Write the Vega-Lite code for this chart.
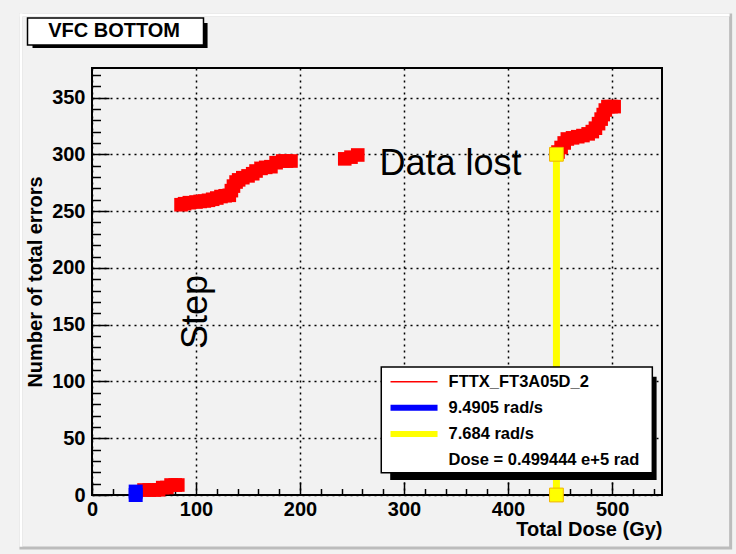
{
  "$schema": "https://vega.github.io/schema/vega-lite/v6.json",
  "width": 570,
  "height": 427,
  "autosize": {"type": "none"},
  "padding": {"left": 92, "top": 68, "right": 74, "bottom": 59},
  "background": "#f2f2f2",
  "config": {
    "view": {"stroke": "#000000", "strokeWidth": 2},
    "font": "Liberation Sans",
    "axis": {"labelColor": "#000000", "titleColor": "#000000", "tickColor": "#000000", "labelFont": "Liberation Sans", "titleFont": "Liberation Sans"}
  },
  "data": {
    "values": [
      {"series": "FTTX_FT3A05D_2", "dose": 50, "errors": 4.4},
      {"series": "FTTX_FT3A05D_2", "dose": 55, "errors": 4.4},
      {"series": "FTTX_FT3A05D_2", "dose": 60, "errors": 4.4},
      {"series": "FTTX_FT3A05D_2", "dose": 64, "errors": 4.6},
      {"series": "FTTX_FT3A05D_2", "dose": 68, "errors": 6.5},
      {"series": "FTTX_FT3A05D_2", "dose": 72, "errors": 6.6},
      {"series": "FTTX_FT3A05D_2", "dose": 76, "errors": 8.8},
      {"series": "FTTX_FT3A05D_2", "dose": 80, "errors": 8.8},
      {"series": "FTTX_FT3A05D_2", "dose": 82.5, "errors": 8.8},
      {"series": "FTTX_FT3A05D_2", "dose": 85.6, "errors": 255.6},
      {"series": "FTTX_FT3A05D_2", "dose": 89, "errors": 256.5},
      {"series": "FTTX_FT3A05D_2", "dose": 93.6, "errors": 257.4},
      {"series": "FTTX_FT3A05D_2", "dose": 100, "errors": 258},
      {"series": "FTTX_FT3A05D_2", "dose": 104, "errors": 258.5},
      {"series": "FTTX_FT3A05D_2", "dose": 108, "errors": 258.9},
      {"series": "FTTX_FT3A05D_2", "dose": 112, "errors": 259.5},
      {"series": "FTTX_FT3A05D_2", "dose": 116, "errors": 260.4},
      {"series": "FTTX_FT3A05D_2", "dose": 120, "errors": 261.5},
      {"series": "FTTX_FT3A05D_2", "dose": 124, "errors": 262.8},
      {"series": "FTTX_FT3A05D_2", "dose": 128, "errors": 263.5},
      {"series": "FTTX_FT3A05D_2", "dose": 132, "errors": 263.9},
      {"series": "FTTX_FT3A05D_2", "dose": 134, "errors": 268},
      {"series": "FTTX_FT3A05D_2", "dose": 136, "errors": 272},
      {"series": "FTTX_FT3A05D_2", "dose": 138.5, "errors": 275.6},
      {"series": "FTTX_FT3A05D_2", "dose": 141, "errors": 277.5},
      {"series": "FTTX_FT3A05D_2", "dose": 145, "errors": 279.4},
      {"series": "FTTX_FT3A05D_2", "dose": 150, "errors": 281},
      {"series": "FTTX_FT3A05D_2", "dose": 154.5, "errors": 282.9},
      {"series": "FTTX_FT3A05D_2", "dose": 157.7, "errors": 285.3},
      {"series": "FTTX_FT3A05D_2", "dose": 162.5, "errors": 287.6},
      {"series": "FTTX_FT3A05D_2", "dose": 167, "errors": 288.5},
      {"series": "FTTX_FT3A05D_2", "dose": 172, "errors": 289.1},
      {"series": "FTTX_FT3A05D_2", "dose": 177, "errors": 292.6},
      {"series": "FTTX_FT3A05D_2", "dose": 183.3, "errors": 294.1},
      {"series": "FTTX_FT3A05D_2", "dose": 187, "errors": 294.1},
      {"series": "FTTX_FT3A05D_2", "dose": 191.3, "errors": 294.1},
      {"series": "FTTX_FT3A05D_2", "dose": 243, "errors": 296},
      {"series": "FTTX_FT3A05D_2", "dose": 249, "errors": 297.5},
      {"series": "FTTX_FT3A05D_2", "dose": 255.5, "errors": 299.4},
      {"series": "FTTX_FT3A05D_2", "dose": 448, "errors": 302},
      {"series": "FTTX_FT3A05D_2", "dose": 451, "errors": 306},
      {"series": "FTTX_FT3A05D_2", "dose": 454, "errors": 310},
      {"series": "FTTX_FT3A05D_2", "dose": 457, "errors": 313.5},
      {"series": "FTTX_FT3A05D_2", "dose": 462, "errors": 314.5},
      {"series": "FTTX_FT3A05D_2", "dose": 467, "errors": 315.5},
      {"series": "FTTX_FT3A05D_2", "dose": 472, "errors": 316.5},
      {"series": "FTTX_FT3A05D_2", "dose": 477, "errors": 318},
      {"series": "FTTX_FT3A05D_2", "dose": 481, "errors": 320},
      {"series": "FTTX_FT3A05D_2", "dose": 484, "errors": 323},
      {"series": "FTTX_FT3A05D_2", "dose": 487, "errors": 327},
      {"series": "FTTX_FT3A05D_2", "dose": 489.5, "errors": 331},
      {"series": "FTTX_FT3A05D_2", "dose": 491.5, "errors": 335},
      {"series": "FTTX_FT3A05D_2", "dose": 493.5, "errors": 339},
      {"series": "FTTX_FT3A05D_2", "dose": 496, "errors": 342},
      {"series": "FTTX_FT3A05D_2", "dose": 499, "errors": 342},
      {"series": "FTTX_FT3A05D_2", "dose": 502, "errors": 342},
      {"series": "9.4905 rad/s", "dose": 42, "errors": 0},
      {"series": "9.4905 rad/s", "dose": 42, "errors": 3},
      {"series": "7.684 rad/s", "dose": 446.5, "errors": 0},
      {"series": "7.684 rad/s", "dose": 446.5, "errors": 300}
    ]
  },
  "resolve": {"axis": {"x": "independent", "y": "independent"}},
  "layer": [
    {
      "data": {"values": [{}]},
      "mark": {"type": "rect", "fillOpacity": 0, "stroke": "#bcbcbc", "strokeWidth": 3},
      "encoding": {
        "x": {"datum": -68.3, "type": "quantitative", "axis": null},
        "x2": {"datum": 614},
        "y": {"datum": 422.7, "type": "quantitative", "axis": null},
        "y2": {"datum": -46.7}
      }
    },
    {
      "data": {"values": [{}]},
      "mark": {"type": "rule", "stroke": "#ffffff", "strokeWidth": 3},
      "encoding": {
        "x": {"datum": -69.5, "type": "quantitative", "axis": null},
        "x2": {"datum": 613},
        "y": {"datum": 422.7, "type": "quantitative", "axis": null}
      }
    },
    {
      "data": {"values": [{}]},
      "mark": {"type": "rule", "stroke": "#ffffff", "strokeWidth": 3},
      "encoding": {
        "x": {"datum": -68.3, "type": "quantitative", "axis": null},
        "y": {"datum": 424, "type": "quantitative", "axis": null},
        "y2": {"datum": -45.5}
      }
    },
    {
      "transform": [{"filter": "datum.series === 'FTTX_FT3A05D_2'"}],
      "mark": {"type": "square", "size": 185, "color": "#ff0000", "opacity": 1},
      "encoding": {
        "x": {
          "field": "dose", "type": "quantitative",
          "scale": {"domain": [0, 548], "nice": false, "zero": false},
          "axis": {
            "orient": "bottom", "values": [0, 100, 200, 300, 400, 500],
            "grid": true, "gridColor": "#000000", "gridDash": [2, 4], "gridWidth": 1.5,
            "domain": false, "ticks": true, "tickSize": -13, "tickWidth": 1.5,
            "labelFontSize": 20, "labelFontWeight": "bold", "labelPadding": 17, "labelFlush": false, "labelOverlap": false,
            "title": "Total Dose (Gy)", "titleFontSize": 20, "titleFontWeight": "bold", "titleAnchor": "end", "titlePadding": 0
          }
        },
        "y": {
          "field": "errors", "type": "quantitative",
          "scale": {"domain": [0, 376], "nice": false, "zero": false},
          "axis": {
            "orient": "left", "values": [0, 50, 100, 150, 200, 250, 300, 350],
            "grid": true, "gridColor": "#000000", "gridDash": [2, 4], "gridWidth": 1.5,
            "domain": false, "ticks": true, "tickSize": -17, "tickWidth": 1.5,
            "labelFontSize": 20, "labelFontWeight": "bold", "labelPadding": 24, "labelOverlap": false,
            "title": "Number of total errors", "titleFontSize": 20, "titleFontWeight": "bold", "titlePadding": 6
          }
        }
      }
    },
    {
      "transform": [{"filter": "datum.series === 'FTTX_FT3A05D_2'"}],
      "mark": {"type": "square", "size": 10, "opacity": 0},
      "encoding": {
        "x": {
          "field": "dose", "type": "quantitative",
          "axis": {
            "orient": "bottom", "values": [20, 40, 60, 80, 120, 140, 160, 180, 220, 240, 260, 280, 320, 340, 360, 380, 420, 440, 460, 480, 520, 540],
            "grid": false, "domain": false, "labels": false, "title": null, "ticks": true, "tickSize": -6.5, "tickWidth": 1.5
          }
        },
        "y": {
          "field": "errors", "type": "quantitative",
          "axis": {
            "orient": "left", "values": [10, 20, 30, 40, 60, 70, 80, 90, 110, 120, 130, 140, 160, 170, 180, 190, 210, 220, 230, 240, 260, 270, 280, 290, 310, 320, 330, 340, 360, 370],
            "grid": false, "domain": false, "labels": false, "title": null, "ticks": true, "tickSize": -8.5, "tickWidth": 1.5
          }
        }
      }
    },
    {
      "transform": [{"filter": "datum.series === '9.4905 rad/s'"}],
      "mark": {"type": "square", "size": 196, "color": "#0000ff", "opacity": 1},
      "encoding": {
        "x": {"field": "dose", "type": "quantitative", "axis": null},
        "y": {"field": "errors", "type": "quantitative", "axis": null}
      }
    },
    {
      "transform": [{"filter": "datum.series === '7.684 rad/s'"}],
      "mark": {"type": "line", "color": "#ffff00", "strokeWidth": 7},
      "encoding": {
        "x": {"field": "dose", "type": "quantitative", "axis": null},
        "y": {"field": "errors", "type": "quantitative", "axis": null}
      }
    },
    {
      "transform": [{"filter": "datum.series === '7.684 rad/s'"}],
      "mark": {"type": "square", "size": 190, "color": "#ffff00", "opacity": 1, "stroke": "#f0b400", "strokeWidth": 1},
      "encoding": {
        "x": {"field": "dose", "type": "quantitative", "axis": null},
        "y": {"field": "errors", "type": "quantitative", "axis": null}
      }
    },
    {
      "data": {"values": [{}]},
      "mark": {"type": "text", "text": "Data lost", "font": "Liberation Sans", "fontSize": 36, "align": "left", "baseline": "alphabetic", "color": "#000000"},
      "encoding": {
        "x": {"datum": 276.4, "type": "quantitative", "axis": null},
        "y": {"datum": 281.8, "type": "quantitative", "axis": null}
      }
    },
    {
      "data": {"values": [{}]},
      "mark": {"type": "text", "text": "Step", "font": "Liberation Sans", "fontSize": 36, "align": "center", "baseline": "alphabetic", "angle": 270, "color": "#000000"},
      "encoding": {
        "x": {"datum": 110.1, "type": "quantitative", "axis": null},
        "y": {"datum": 161.1, "type": "quantitative", "axis": null}
      }
    },
    {
      "data": {"values": [{}]},
      "mark": {"type": "rect", "color": "#000000"},
      "encoding": {
        "x": {"datum": -57.2, "type": "quantitative", "axis": null},
        "x2": {"datum": 111.1},
        "y": {"datum": 415.6, "type": "quantitative", "axis": null},
        "y2": {"datum": 393.6}
      }
    },
    {
      "data": {"values": [{}]},
      "mark": {"type": "rect", "fill": "#ffffff", "stroke": "#000000", "strokeWidth": 1.5},
      "encoding": {
        "x": {"datum": -62, "type": "quantitative", "axis": null},
        "x2": {"datum": 107.2},
        "y": {"datum": 420, "type": "quantitative", "axis": null},
        "y2": {"datum": 396.3}
      }
    },
    {
      "data": {"values": [{}]},
      "mark": {"type": "text", "text": "VFC BOTTOM", "font": "Liberation Sans", "fontSize": 20, "fontWeight": "bold", "align": "center", "baseline": "alphabetic", "color": "#000000"},
      "encoding": {
        "x": {"datum": 21.2, "type": "quantitative", "axis": null},
        "y": {"datum": 403.3, "type": "quantitative", "axis": null}
      }
    },
    {
      "data": {"values": [{}]},
      "mark": {"type": "rect", "color": "#000000"},
      "encoding": {
        "x": {"datum": 286.7, "type": "quantitative", "axis": null},
        "x2": {"datum": 542.8},
        "y": {"datum": 104.2, "type": "quantitative", "axis": null},
        "y2": {"datum": 13.2}
      }
    },
    {
      "data": {"values": [{}]},
      "mark": {"type": "rect", "fill": "#ffffff", "stroke": "#000000", "strokeWidth": 1.5},
      "encoding": {
        "x": {"datum": 278.1, "type": "quantitative", "axis": null},
        "x2": {"datum": 538.7},
        "y": {"datum": 112.7, "type": "quantitative", "axis": null},
        "y2": {"datum": 19.6}
      }
    },
    {
      "data": {"values": [{}]},
      "mark": {"type": "rule", "color": "#ff0000", "strokeWidth": 1.5},
      "encoding": {
        "x": {"datum": 287, "type": "quantitative", "axis": null},
        "x2": {"datum": 332.2},
        "y": {"datum": 99.8, "type": "quantitative", "axis": null}
      }
    },
    {
      "data": {"values": [{}]},
      "mark": {"type": "rule", "color": "#0000ff", "strokeWidth": 6},
      "encoding": {
        "x": {"datum": 287, "type": "quantitative", "axis": null},
        "x2": {"datum": 332.2},
        "y": {"datum": 76.9, "type": "quantitative", "axis": null}
      }
    },
    {
      "data": {"values": [{}]},
      "mark": {"type": "rule", "color": "#ffff00", "strokeWidth": 6},
      "encoding": {
        "x": {"datum": 287, "type": "quantitative", "axis": null},
        "x2": {"datum": 332.2},
        "y": {"datum": 53.7, "type": "quantitative", "axis": null}
      }
    },
    {
      "data": {"values": [{}]},
      "mark": {"type": "text", "text": "FTTX_FT3A05D_2", "font": "Liberation Sans", "fontSize": 16.5, "fontWeight": "bold", "align": "left", "baseline": "middle", "color": "#000000"},
      "encoding": {
        "x": {"datum": 342.8, "type": "quantitative", "axis": null},
        "y": {"datum": 99.8, "type": "quantitative", "axis": null}
      }
    },
    {
      "data": {"values": [{}]},
      "mark": {"type": "text", "text": "9.4905 rad/s", "font": "Liberation Sans", "fontSize": 16.5, "fontWeight": "bold", "align": "left", "baseline": "middle", "color": "#000000"},
      "encoding": {
        "x": {"datum": 342.8, "type": "quantitative", "axis": null},
        "y": {"datum": 76.9, "type": "quantitative", "axis": null}
      }
    },
    {
      "data": {"values": [{}]},
      "mark": {"type": "text", "text": "7.684 rad/s", "font": "Liberation Sans", "fontSize": 16.5, "fontWeight": "bold", "align": "left", "baseline": "middle", "color": "#000000"},
      "encoding": {
        "x": {"datum": 342.8, "type": "quantitative", "axis": null},
        "y": {"datum": 53.7, "type": "quantitative", "axis": null}
      }
    },
    {
      "data": {"values": [{}]},
      "mark": {"type": "text", "text": "Dose = 0.499444 e+5 rad", "font": "Liberation Sans", "fontSize": 16.5, "fontWeight": "bold", "align": "left", "baseline": "middle", "color": "#000000"},
      "encoding": {
        "x": {"datum": 342.8, "type": "quantitative", "axis": null},
        "y": {"datum": 30.8, "type": "quantitative", "axis": null}
      }
    }
  ]
}
